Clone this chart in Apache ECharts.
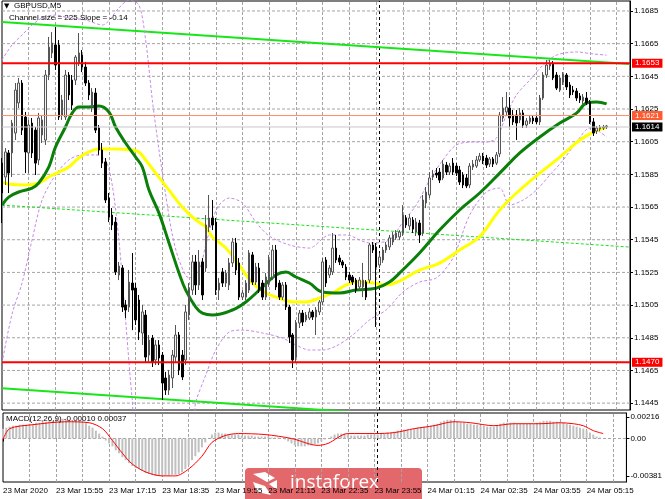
<!DOCTYPE html>
<html><head><meta charset="utf-8">
<script src="https://cdn.jsdelivr.net/npm/echarts@6/dist/echarts.min.js"></script>
<style>html,body{margin:0;padding:0;background:#fff}#c{width:665px;height:499px}</style>
</head><body><div id="c"></div>
<script>
// ---- data ----
const tickLabels = ['23 Mar 2020','23 Mar 15:55','23 Mar 17:15','23 Mar 18:35','23 Mar 19:55','23 Mar 21:15','23 Mar 22:35','23 Mar 23:55','24 Mar 01:15','24 Mar 02:35','24 Mar 03:55','24 Mar 05:15'];
const yTicks = [1.1445,1.1465,1.1485,1.1505,1.1525,1.1545,1.1565,1.1585,1.1605,1.1625,1.1645,1.1665,1.1685];
const macdTicks = [-0.00381, 0, 0.00216];
// candles: [open, close, low, high]
const candles = [
[1.15919,1.15736,1.15552,1.15950],[1.15834,1.15987,1.15785,1.16011],[1.15981,1.15858,1.15736,1.15999],[1.15981,1.16164,1.15834,1.16183],
[1.16103,1.16366,1.16060,1.16409],[1.16287,1.16409,1.16256,1.16440],[1.16409,1.16121,1.16091,1.16427],[1.16201,1.15987,1.15858,1.16232],
[1.15981,1.16152,1.15858,1.16183],[1.16164,1.15981,1.15950,1.16195],[1.16121,1.15919,1.15846,1.16140],[1.15938,1.16195,1.15907,1.16226],
[1.16091,1.16183,1.16042,1.16213],[1.16060,1.16458,1.16030,1.16489],[1.16458,1.16629,1.16427,1.16691],[1.16593,1.16654,1.16562,1.16721],
[1.16642,1.16519,1.16489,1.16752],[1.16642,1.16201,1.16183,1.16672],[1.16213,1.16305,1.16183,1.16336],[1.16201,1.16458,1.16183,1.16489],
[1.16458,1.16336,1.16305,1.16476],[1.16427,1.16274,1.16244,1.16458],[1.16427,1.16568,1.16397,1.16580],[1.16531,1.16593,1.16513,1.16715],
[1.16580,1.16507,1.16476,1.16611],[1.16507,1.16409,1.16391,1.16538],[1.16409,1.16336,1.16305,1.16427],[1.16274,1.16354,1.16232,1.16378],
[1.16348,1.16121,1.16103,1.16378],[1.16134,1.15999,1.15969,1.16152],[1.15999,1.15919,1.15889,1.16042],[1.15926,1.15693,1.15675,1.15950],
[1.15705,1.15589,1.15558,1.15736],[1.15601,1.15540,1.15509,1.15644],[1.15558,1.15253,1.15234,1.15589],[1.15234,1.15289,1.15203,1.15314],
[1.15277,1.15038,1.15008,1.15295],[1.15051,1.15020,1.14971,1.15081],[1.15038,1.15191,1.15008,1.15265],[1.15185,1.15142,1.14897,1.15369],
[1.15154,1.14959,1.14928,1.15185],[1.15081,1.14885,1.14836,1.15112],[1.14879,1.15008,1.14806,1.15051],[1.14989,1.14732,1.14702,1.15020],
[1.14744,1.14836,1.14702,1.14867],[1.14848,1.14702,1.14671,1.14867],[1.14714,1.14806,1.14683,1.14836],[1.14806,1.14726,1.14683,1.14836],
[1.14744,1.14573,1.14469,1.14763],[1.14604,1.14530,1.14500,1.14641],[1.14530,1.14622,1.14500,1.14653],[1.14604,1.14744,1.14542,1.14775],
[1.14732,1.14867,1.14702,1.14928],[1.14867,1.14653,1.14622,1.14885],[1.14744,1.14610,1.14591,1.14775],[1.14714,1.15008,1.14683,1.15051],
[1.14989,1.15154,1.14959,1.15185],[1.15142,1.15314,1.15112,1.15357],[1.15314,1.15173,1.15112,1.15357],[1.15173,1.15314,1.15142,1.15387],
[1.15314,1.15112,1.15081,1.15338],[1.15277,1.15540,1.15253,1.15601],[1.15528,1.15583,1.15497,1.15724],[1.15583,1.15540,1.15509,1.15693],
[1.15558,1.15142,1.15112,1.15583],[1.15142,1.15185,1.15081,1.15216],[1.15253,1.15185,1.15161,1.15277],[1.15185,1.15246,1.15161,1.15265],
[1.15173,1.15308,1.15142,1.15338],[1.15308,1.15436,1.15283,1.15461],[1.15430,1.15265,1.15234,1.15461],[1.15308,1.15099,1.15081,1.15338],
[1.15099,1.15124,1.15081,1.15142],[1.15099,1.15185,1.15081,1.15203],[1.15142,1.15369,1.15124,1.15387],[1.15357,1.15191,1.15173,1.15375],
[1.15191,1.15283,1.15173,1.15308],[1.15277,1.15142,1.15124,1.15308],[1.15185,1.15099,1.15081,1.15203],[1.15099,1.15222,1.15081,1.15246],
[1.15185,1.15326,1.15161,1.15357],[1.15222,1.15387,1.15203,1.15418],[1.15387,1.15161,1.15142,1.15418],[1.15185,1.15099,1.15081,1.15203],
[1.15099,1.15173,1.15081,1.15191],[1.15173,1.15038,1.15020,1.15191],[1.15038,1.14855,1.14818,1.15051],[1.14867,1.14714,1.14665,1.14879],
[1.14732,1.14940,1.14702,1.14959],[1.14940,1.15001,1.14910,1.15020],[1.15001,1.14946,1.14922,1.15020],[1.14959,1.14989,1.14946,1.15008],
[1.14971,1.15008,1.14959,1.15032],[1.15008,1.14977,1.14959,1.15020],[1.14977,1.15020,1.14867,1.15038],[1.15008,1.15069,1.14989,1.15081],
[1.15069,1.15314,1.15051,1.15338],[1.15326,1.15185,1.15161,1.15344],[1.15234,1.15277,1.15216,1.15295],[1.15253,1.15399,1.15234,1.15491],
[1.15399,1.15326,1.15308,1.15479],[1.15338,1.15314,1.15295,1.15357],[1.15314,1.15295,1.15277,1.15326],[1.15283,1.15222,1.15203,1.15301],
[1.15234,1.15203,1.15185,1.15253],[1.15222,1.15191,1.15173,1.15234],[1.15203,1.15142,1.15124,1.15216],[1.15161,1.15203,1.15142,1.15222],
[1.15161,1.15203,1.15099,1.15308],[1.15191,1.15099,1.15081,1.15203],[1.15203,1.15418,1.15185,1.15430],[1.15418,1.15387,1.15369,1.15436],
[1.15406,1.15283,1.14916,1.15430],[1.15295,1.15344,1.15277,1.15369],[1.15326,1.15387,1.15308,1.15406],[1.15387,1.15418,1.15369,1.15436],
[1.15406,1.15461,1.15387,1.15479],[1.15436,1.15479,1.15418,1.15497],[1.15461,1.15491,1.15449,1.15509],[1.15467,1.15497,1.15449,1.15509],
[1.15491,1.15601,1.15473,1.15662],[1.15583,1.15540,1.15522,1.15601],[1.15534,1.15583,1.15509,1.15607],[1.15571,1.15515,1.15491,1.15589],
[1.15497,1.15558,1.15473,1.15583],[1.15552,1.15479,1.15430,1.15571],[1.15491,1.15693,1.15473,1.15724],[1.15675,1.15742,1.15644,1.15773],
[1.15724,1.15828,1.15705,1.15864],[1.15834,1.15852,1.15815,1.15877],[1.15858,1.15846,1.15828,1.15889],[1.15864,1.15815,1.15797,1.15889],
[1.15828,1.15913,1.15815,1.15938],[1.15907,1.15864,1.15846,1.15926],[1.15864,1.15901,1.15846,1.15919],[1.15919,1.15864,1.15846,1.15950],
[1.15901,1.15858,1.15840,1.15919],[1.15877,1.15803,1.15785,1.15901],[1.15846,1.15785,1.15766,1.15864],[1.15828,1.15779,1.15766,1.15852],
[1.15785,1.15901,1.15766,1.15919],[1.15895,1.15913,1.15877,1.15938],[1.15901,1.15938,1.15889,1.15962],[1.15938,1.15962,1.15926,1.15981],
[1.15962,1.15932,1.15913,1.15981],[1.15950,1.15907,1.15889,1.15969],[1.15913,1.15944,1.15895,1.15956],[1.15944,1.15913,1.15895,1.15956],
[1.15919,1.15969,1.15907,1.15987],[1.15975,1.16213,1.15956,1.16232],[1.16195,1.16256,1.16171,1.16323],[1.16232,1.16262,1.16207,1.16354],
[1.16256,1.16195,1.16140,1.16323],[1.16213,1.16171,1.16152,1.16244],[1.16213,1.16164,1.16060,1.16244],[1.16183,1.16226,1.16164,1.16256],
[1.16226,1.16152,1.16134,1.16244],[1.16152,1.16177,1.16134,1.16195],[1.16171,1.16195,1.16158,1.16213],[1.16195,1.16177,1.16158,1.16213],
[1.16195,1.16171,1.16158,1.16207],[1.16171,1.16317,1.16152,1.16336],[1.16317,1.16458,1.16305,1.16476],[1.16458,1.16519,1.16440,1.16550],
[1.16513,1.16531,1.16489,1.16550],[1.16525,1.16440,1.16427,1.16544],[1.16458,1.16378,1.16366,1.16476],[1.16366,1.16440,1.16354,1.16458],
[1.16415,1.16464,1.16397,1.16476],[1.16458,1.16385,1.16366,1.16470],[1.16397,1.16336,1.16317,1.16415],[1.16366,1.16354,1.16336,1.16391],
[1.16360,1.16317,1.16299,1.16378],[1.16330,1.16305,1.16287,1.16348],[1.16299,1.16323,1.16281,1.16342],[1.16317,1.16287,1.16274,1.16354],
[1.16293,1.16171,1.16158,1.16305],[1.16171,1.16103,1.16085,1.16195],[1.16115,1.16134,1.16097,1.16146],[1.16128,1.16140,1.16115,1.16152],
[1.16134,1.16140,1.16121,1.16152],[1.16140,1.16146,1.16128,1.16152]
];
// moving averages and bands, [bar index, price]
const maGreen = [[0,1.15662],[2,1.15711],[5,1.15742],[9,1.15766],[11,1.15797],[14,1.15895],[16,1.16017],[19,1.16140],[21,1.16225],[23,1.16262],[26,1.16262],[29,1.16268],[32,1.16232],[34,1.16140],[37,1.16042],[40,1.15956],[42,1.15895],[44,1.15754],[47,1.15613],[50,1.15430],[53,1.15246],[55,1.15142],[58,1.15038],[60,1.15001],[63,1.14989],[69,1.15020],[73,1.15069],[78,1.15161],[82,1.15234],[85,1.15252],[88,1.15222],[92,1.15185],[96,1.15130],[101,1.15124],[106,1.15142],[112,1.15154],[116,1.15191],[119,1.15246],[125,1.15369],[131,1.15509],[137,1.15632],[143,1.15736],[149,1.15858],[155,1.15981],[161,1.16079],[167,1.16164],[172,1.16225],[175,1.16287],[178,1.16293],[181,1.16281]];
const maYellow = [[0,1.15803],[2,1.15791],[7,1.15785],[11,1.15797],[14,1.15834],[17,1.15864],[20,1.15895],[23,1.15950],[26,1.15987],[29,1.16005],[34,1.16005],[39,1.15999],[41,1.15987],[43,1.15938],[46,1.15858],[50,1.15754],[54,1.15649],[58,1.15571],[61,1.15528],[63,1.15467],[67,1.15399],[71,1.15295],[75,1.15185],[79,1.15124],[83,1.15093],[87,1.15069],[91,1.15069],[95,1.15093],[99,1.15124],[103,1.15173],[106,1.15191],[111,1.15185],[115,1.15173],[119,1.15197],[125,1.15264],[131,1.15307],[137,1.15387],[143,1.15470],[149,1.15632],[155,1.15754],[161,1.15858],[167,1.15956],[173,1.16060],[177,1.16109],[181,1.16140]];
const bbUpper = [[0,1.16550],[3,1.16642],[6,1.16703],[9,1.16764],[12,1.16807],[16,1.16825],[20,1.16807],[25,1.16795],[30,1.16764],[35,1.16868],[38,1.16917],[41,1.16886],[43,1.16672],[45,1.16305],[47,1.15999],[49,1.15724],[51,1.15479],[53,1.15326],[56,1.15216],[59,1.15265],[61,1.15418],[63,1.15571],[65,1.15662],[68,1.15705],[72,1.15675],[76,1.15558],[80,1.15473],[86,1.15418],[92,1.15399],[98,1.15479],[103,1.15479],[110,1.15430],[116,1.15449],[120,1.15558],[124,1.15662],[128,1.15815],[132,1.15938],[136,1.16030],[141,1.16048],[145,1.16048],[148,1.16072],[151,1.16213],[154,1.16336],[158,1.16427],[162,1.16519],[166,1.16580],[172,1.16599],[177,1.16587],[181,1.16580]];
const bbLower = [[0,1.14695],[3,1.14995],[6,1.15185],[9,1.15449],[12,1.15693],[16,1.15846],[20,1.15938],[24,1.15969],[28,1.15969],[31,1.15938],[33,1.15785],[35,1.15449],[37,1.14959],[39,1.14469],[40,1.14347],[57,1.14347],[58,1.14458],[61,1.14622],[64,1.14775],[68,1.14885],[72,1.14897],[78,1.14879],[84,1.14848],[88,1.14806],[92,1.14775],[96,1.14775],[100,1.14799],[105,1.14867],[110,1.14959],[115,1.15020],[120,1.15130],[125,1.15191],[130,1.15216],[135,1.15338],[140,1.15601],[145,1.15742],[149,1.15766],[152,1.15662],[156,1.15693],[160,1.15754],[164,1.15846],[168,1.15938],[172,1.16048],[176,1.16134],[179,1.16109],[181,1.16079]];
const channelUpper = [[0,1.16782],[188,1.16526]];
const channelMiddle = [[0,1.15662],[188,1.15405]];
const channelLower = [[0,1.14541],[188,1.14281]];
const levelRed = [1.1653, 1.1470];
const levelOrange = 1.1621;
const lastPrice = 1.1614;
const macdHist = [
0.0010,0.0011,0.0012,
0.0013,0.0013,0.0014,0.0014,0.0014,0.0015,0.0015,
0.0016,0.0016,0.0017,0.0017,0.0018,0.0018,0.0019,0.0019,0.0020,
0.0019,0.0019,0.0018,0.0018,0.0018,0.0017,0.0016,
0.0013,0.0011,0.0008,0.0005,0.0002,
-0.0002,-0.0005,-0.0008,-0.0012,-0.0015,-0.0019,-0.0022,-0.0025,-0.0028,-0.0030,-0.0031,-0.0033,-0.0035,-0.0036,
-0.0037,-0.0038,-0.0038,-0.0038,-0.0038,-0.0038,-0.0037,-0.0037,-0.0036,
-0.0034,-0.0031,-0.0027,-0.0022,-0.0018,-0.0014,-0.0009,-0.0004,0.0000,
0.0004,0.0006,0.0006,0.0005,0.0005,0.0004,0.0004,0.0004,0.0004,0.0003,0.0003,0.0003,0.0003,
0.0002,0.0002,0.0002,0.0002,0.0002,0.0001,0.0001,0.0001,0.0000,-0.0001,-0.0003,
-0.0005,-0.0007,-0.0008,-0.0008,-0.0008,-0.0007,-0.0007,-0.0006,-0.0005,
-0.0003,-0.0001,0.0000,0.0002,
0.0004,0.0005,0.0005,0.0005,0.0004,
0.0003,0.0003,0.0003,0.0003,0.0003,0.0004,0.0004,
0.0004,0.0004,0.0005,0.0005,0.0006,0.0006,0.0007,
0.0008,0.0008,0.0009,0.0009,0.0009,0.0010,0.0011,0.0011,
0.0012,0.0012,0.0013,0.0014,0.0015,
0.0017,0.0018,0.0019,0.0019,0.0018,0.0017,0.0016,
0.0016,0.0015,0.0015,0.0014,0.0014,0.0013,0.0013,
0.0012,0.0012,0.0012,0.0013,0.0015,
0.0016,0.0016,0.0016,0.0016,0.0015,0.0015,0.0015,0.0015,
0.0015,0.0015,0.0016,0.0017,0.0018,
0.0018,0.0018,0.0017,0.0017,0.0016,0.0016,0.0015,
0.0014,0.0013,0.0012,0.0011,0.0010,
0.0008,0.0006,0.0004,0.0002,0.0001,0.0000
];
const macdSignal = [[0,-0.0001],[2,0.0010],[9,0.0014],[19,0.0017],[26,0.0016],[30,0.0010],[33,-0.0002],[36,-0.0015],[39,-0.0026],[43,-0.0034],[48,-0.0038],[52,-0.0038],[56,-0.0031],[60,-0.0018],[63,-0.0004],[67,0.0003],[71,0.0005],[79,0.0004],[87,0.0000],[95,-0.0007],[98,-0.0005],[104,0.0005],[112,0.0005],[118,0.0006],[124,0.0010],[130,0.0013],[136,0.0017],[141,0.0016],[148,0.0013],[154,0.0015],[162,0.0015],[168,0.0016],[172,0.0015],[175,0.0013],[178,0.0008],[181,0.0005]];
const separatorIndex = 113;

// ---- categories (5-minute bars from 23 Mar 14:35) ----
const nCat = 189;
const lastCat = nCat - 1;
const categories = [];
for (let i = 0; i < nCat; i++) {
  const m = 14 * 60 + 35 + i * 5;
  const hh = Math.floor(m / 60) % 24, mm = m % 60;
  categories.push((hh < 10 ? '0' : '') + hh + ':' + (mm < 10 ? '0' : '') + mm);
}
const vGridIdx = [];
for (let i = 8; i < nCat; i += 8) if (i !== separatorIndex) vGridIdx.push(i);

const FONT = 'Liberation Sans';
const gridColor = '#a4a4a4';
const chart = echarts.init(document.getElementById('c'), null, {renderer: 'canvas'});

function hLine(v, color, width, type, z, xi) {
  return {type: 'line', xAxisIndex: xi || 0, yAxisIndex: xi || 0, data: [[0, v], [lastCat, v]], showSymbol: false, silent: true,
    lineStyle: {color: color, width: width, type: type}, z: z};
}
function levelSeries(v, color, width, boxColor) {
  const s = hLine(v, color, width, 'solid', 6);
  s.endLabel = {show: true, formatter: v.toFixed(4), distance: 2, color: '#ffffff', backgroundColor: boxColor,
    padding: [1, 3, 0, 3], fontSize: 8, fontFamily: FONT};
  return s;
}
function vLines(xi) {
  return {type: 'line', xAxisIndex: xi, yAxisIndex: xi, data: [], showSymbol: false, silent: true, z: 1,
    markLine: {silent: true, symbol: ['none', 'none'], label: {show: false}, animation: false, z: 1,
      data: vGridIdx.map(i => ({xAxis: i, lineStyle: {color: gridColor, width: 1, type: [3, 2]}}))
        .concat([{xAxis: separatorIndex, lineStyle: {color: '#000', type: [3, 3], width: 1}}])}};
}

const series = [];
yTicks.forEach(v => series.push(hLine(v, gridColor, 1, [3, 2], 1)));
series.push(
  vLines(0),
  vLines(1),
  {name: 'channelUpper', type: 'line', data: channelUpper, showSymbol: false, lineStyle: {color: '#19e619', width: 2}, z: 2},
  {name: 'channelMiddle', type: 'line', data: channelMiddle, showSymbol: false, lineStyle: {color: '#19e619', width: 1, type: [3, 2]}, z: 2},
  {name: 'channelLower', type: 'line', data: channelLower, showSymbol: false, lineStyle: {color: '#19e619', width: 2}, z: 2},
  {name: 'bbUpper', type: 'line', data: bbUpper, showSymbol: false, smooth: 0.3, lineStyle: {color: '#c58ae8', width: 1, type: [3, 2]}, z: 2},
  {name: 'bbLower', type: 'line', data: bbLower, showSymbol: false, smooth: 0.3, lineStyle: {color: '#c58ae8', width: 1, type: [3, 2]}, z: 2},
  {name: 'maYellow', type: 'line', data: maYellow, showSymbol: false, smooth: 0.4, lineStyle: {color: '#ffff00', width: 3}, z: 3},
  {name: 'maGreen', type: 'line', data: maGreen, showSymbol: false, smooth: 0.4, lineStyle: {color: '#0a800a', width: 3}, z: 3},
  {name: 'price', type: 'candlestick', data: candles, barWidth: 2, z: 4,
   itemStyle: {color: '#f4f4f4', color0: '#000000', borderColor: '#555555', borderColor0: '#000000', borderWidth: 1}},
  levelSeries(lastPrice, '#c8c8c8', 1, '#000000'),
  levelSeries(levelOrange, '#ff8c6a', 1, '#ff5a30'),
  levelSeries(levelRed[0], '#ff0000', 2, '#ff0000'),
  levelSeries(levelRed[1], '#ff0000', 2, '#ff0000'),
  hLine(0, gridColor, 1, [3, 2], 1, 1),
  {name: 'macd', type: 'bar', xAxisIndex: 1, yAxisIndex: 1, data: macdHist, barWidth: 2, itemStyle: {color: '#c0c0c0'}, z: 2},
  {name: 'signal', type: 'line', xAxisIndex: 1, yAxisIndex: 1, data: macdSignal, showSymbol: false, smooth: 0.3,
   lineStyle: {color: '#ff0000', width: 1}, z: 3}
);

const option = {
  animation: false,
  backgroundColor: '#ffffff',
  grid: [
    {left: 2, right: 35, top: 1, bottom: 89, show: true, borderColor: '#000', borderWidth: 1, backgroundColor: 'rgba(0,0,0,0)', z: 0},
    {left: 2, right: 35, top: 413, bottom: 17, show: true, borderColor: '#000', borderWidth: 1, backgroundColor: 'rgba(0,0,0,0)', z: 0}
  ],
  xAxis: [
    {gridIndex: 0, type: 'category', data: categories, boundaryGap: false,
     axisLine: {show: false}, axisTick: {show: false}, axisLabel: {show: false}, splitLine: {show: false}},
    {gridIndex: 1, type: 'category', data: categories, boundaryGap: false,
     axisLine: {show: false},
     axisTick: {show: true, interval: (i) => i % 16 === 0, length: 3, lineStyle: {color: '#000'}},
     axisLabel: {show: true, interval: (i) => i % 16 === 0, align: 'left', margin: 5,
       formatter: (v, i) => tickLabels[i / 16] || '', fontSize: 8, color: '#000', fontFamily: FONT},
     splitLine: {show: false}}
  ],
  yAxis: [
    {gridIndex: 0, type: 'value', position: 'right', min: 1.14408, max: 1.16911,
     axisLine: {show: true, lineStyle: {color: '#000'}},
     axisTick: {show: true, customValues: yTicks, length: 3, lineStyle: {color: '#000'}},
     axisLabel: {show: true, customValues: yTicks, formatter: (v) => v.toFixed(4), margin: 4, fontSize: 8, color: '#000', fontFamily: FONT},
     splitLine: {show: false}},
    {gridIndex: 1, type: 'value', position: 'right', min: -0.00442, max: 0.00259,
     axisLine: {show: true, lineStyle: {color: '#000'}},
     axisTick: {show: true, customValues: macdTicks, length: 3, lineStyle: {color: '#000'}},
     axisLabel: {show: true, customValues: macdTicks, formatter: (v) => v === 0 ? '0.00' : v.toFixed(5), margin: 4, fontSize: 8, color: '#000', fontFamily: FONT},
     splitLine: {show: false}}
  ],
  series: series,
  graphic: [
    {type: 'text', left: 4, top: 3, z: 50, style: {text: '▼', fontSize: 7, fill: '#000', fontFamily: 'DejaVu Sans'}},
    {type: 'text', left: 14, top: 2, z: 50, style: {text: 'GBPUSD,M5', fontSize: 8, fill: '#000', fontFamily: FONT}},
    {type: 'text', left: 9, top: 14, z: 50, style: {text: 'Channel size = 225 Slope = -0.14', fontSize: 8, fill: '#000', fontFamily: FONT}},
    {type: 'text', left: 6, top: 415, z: 50, style: {text: 'MACD(12,26,9) -0.00010 0.00037', fontSize: 8, fill: '#000', fontFamily: FONT}},
    {type: 'group', left: 245, top: 468, z: 100, children: [
      {type: 'rect', shape: {x: 0, y: 0, width: 177, height: 31, r: [4, 4, 0, 0]}, style: {fill: '#e3686b'}},
      {type: 'polygon', shape: {points: [[8, 6], [20, 4], [30, 10], [22, 14]]}, style: {fill: '#ffffff'}},
      {type: 'polygon', shape: {points: [[8, 14], [20, 18], [26, 27], [12, 24]]}, style: {fill: '#ffffff'}},
      {type: 'polygon', shape: {points: [[24, 16], [32, 12], [32, 22]]}, style: {fill: '#ffffff'}},
      {type: 'text', x: 45, y: 15, style: {text: 'instaforex', fontSize: 19, fill: '#ffffff', fontFamily: 'Open Sans', verticalAlign: 'middle'}}
    ]}
  ]
};
chart.setOption(option);
</script>
</body></html>
